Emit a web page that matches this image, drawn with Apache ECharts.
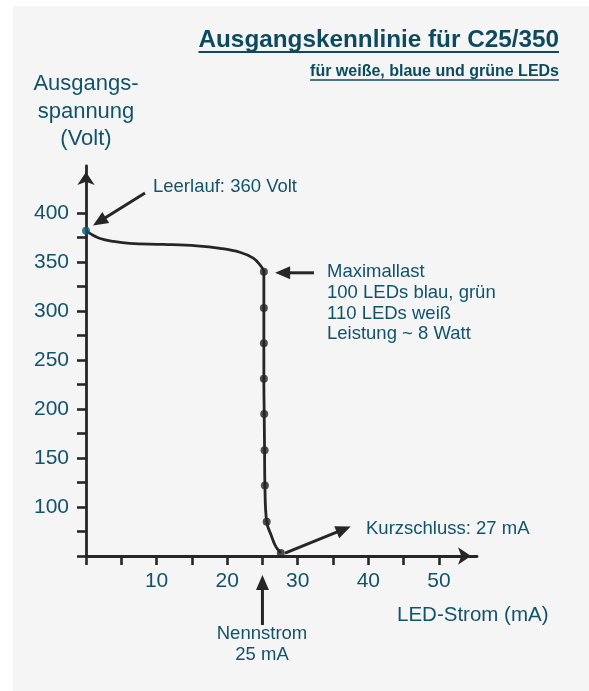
<!DOCTYPE html>
<html>
<head>
<meta charset="utf-8">
<script src="https://cdn.jsdelivr.net/npm/echarts@6/dist/echarts.min.js"></script>
<style>
  html, body { margin: 0; padding: 0; background: #fff; }
  #wrap { position: relative; width: 589px; height: 691px; }
  #bg { position: absolute; left: 13px; top: 6px; right: 0; bottom: 0; background: #f5f5f5; }
  #chart { position: absolute; left: 0; top: 0; width: 589px; height: 691px; }
</style>
</head>
<body>
<div id="wrap"><div id="bg"></div><div id="chart"></div></div>
<script>
// Kennlinie: LED-Strom (mA) -> Ausgangsspannung (V)
const curveCurrent = [0, 0.6, 2, 3.9, 6.2, 11, 15.7, 19, 21.8, 23.7, 24.65, 25.2, 25.2, 25.2, 25.2, 25.25, 25.3, 25.35, 25.6, 26.3, 26.9, 27.6]
const curveVoltage = [382, 379, 374, 371, 369, 368, 366.5, 364, 360, 354, 347, 340, 303, 267, 231, 195, 158, 122, 85, 70, 59.5, 53]

// measured points on the curve
const dotCurrent = [25.2, 25.2, 25.2, 25.2, 25.25, 25.3, 25.35, 25.6, 27.6]
const dotVoltage = [340, 303, 267, 231, 195, 158, 122, 85, 53]
const idlePoint = [0, 382]

const xTicks = [0, 5, 10, 15, 20, 25, 30, 35, 40, 45, 50]
const xLabels = [10, 20, 30, 40, 50]
const yTicks = [50, 75, 100, 125, 150, 175, 200, 225, 250, 275, 300, 325, 350, 375, 400]
const yLabels = [100, 150, 200, 250, 300, 350, 400]

const title = 'Ausgangskennlinie für C25/350'
const subtitle = 'für weiße, blaue und grüne LEDs'

const teal = '#12536c'
const titleColor = '#0c4b5f'
const ink = '#262626'
const font = '"Liberation Sans", Arial, sans-serif'

const chart = echarts.init(document.getElementById('chart'), null, { renderer: 'canvas' })

chart.setOption({
  animation: false,
  backgroundColor: 'transparent',
  grid: {
    left: 86,
    right: 112,
    top: 166,
    bottom: 135
  },
  xAxis: {
    type: 'value',
    min: 0,
    max: 55.4,
    axisLine: {
      show: true,
      onZero: false,
      symbol: ['none', 'arrow'],
      symbolSize: [13, 13],
      symbolOffset: [0, -6],
      lineStyle: { color: ink, width: 2.8 }
    },
    axisTick: {
      show: true,
      length: 9,
      customValues: xTicks,
      lineStyle: { color: ink, width: 2.6 }
    },
    axisLabel: {
      customValues: xLabels,
      margin: 15,
      color: teal,
      fontSize: 21,
      fontFamily: font
    },
    splitLine: { show: false }
  },
  yAxis: {
    type: 'value',
    min: 50,
    max: 448,
    name: 'Ausgangs-\nspannung\n(Volt)',
    nameLocation: 'end',
    nameGap: 13,
    nameTextStyle: {
      color: teal,
      fontSize: 22,
      lineHeight: 27.5,
      fontFamily: font,
      align: 'center',
      verticalAlign: 'bottom'
    },
    axisLine: {
      show: true,
      onZero: false,
      symbol: ['none', 'arrow'],
      symbolSize: [13, 13],
      symbolOffset: [0, -6],
      lineStyle: { color: ink, width: 2.8 }
    },
    axisTick: {
      show: true,
      length: 9,
      customValues: yTicks,
      lineStyle: { color: ink, width: 2.6 }
    },
    axisLabel: {
      customValues: yLabels,
      margin: 17,
      color: teal,
      fontSize: 21,
      fontFamily: font
    },
    splitLine: { show: false }
  },
  series: [
    {
      type: 'line',
      data: curveCurrent.map((x, i) => [x, curveVoltage[i]]),
      smooth: 0.4,
      symbol: 'none',
      lineStyle: { color: ink, width: 2.8 },
      z: 3
    },
    {
      type: 'scatter',
      data: dotCurrent.map((x, i) => [x, dotVoltage[i]]),
      symbolSize: 8,
      itemStyle: { color: ink },
      z: 4
    },
    {
      type: 'scatter',
      data: [idlePoint],
      symbolSize: 8,
      itemStyle: { color: '#0e5a78' },
      z: 4
    }
  ]
})

const px = p => chart.convertToPixel({ gridIndex: 0 }, p)

function arrow(from, to) {
  const a = px(from)
  const b = px(to)
  const ang = Math.atan2(b[1] - a[1], b[0] - a[0])
  const len = 15
  const half = 6.5
  const bx = b[0] - len * Math.cos(ang)
  const by = b[1] - len * Math.sin(ang)
  const nx = -Math.sin(ang)
  const ny = Math.cos(ang)
  return [
    {
      type: 'line',
      shape: { x1: a[0], y1: a[1], x2: bx + 2 * Math.cos(ang), y2: by + 2 * Math.sin(ang) },
      style: { stroke: ink, lineWidth: 3 },
      z: 10
    },
    {
      type: 'polygon',
      shape: { points: [b, [bx + nx * half, by + ny * half], [bx - nx * half, by - ny * half]] },
      style: { fill: ink },
      z: 10
    }
  ]
}

function label(text, x, y, opts) {
  return {
    type: 'text',
    x: x,
    y: y,
    z: 10,
    style: Object.assign({
      text: text,
      fill: teal,
      fontSize: 18.5,
      fontFamily: font,
      align: 'left',
      verticalAlign: 'middle'
    }, opts || {})
  }
}

// text widths for underlines
const ctx = document.createElement('canvas').getContext('2d')
ctx.font = 'bold 24.3px "Liberation Sans"'
const titleW = ctx.measureText(title).width
ctx.font = 'bold 16px "Liberation Sans"'
const subW = ctx.measureText(subtitle).width

const graphics = [].concat(
  arrow([8.36, 420.4], [1.0, 387.3]),
  arrow([32.3, 339], [26.8, 339]),
  arrow([28.2, 53], [37.5, 80]),
  arrow([25.0, -20.4], [25.0, 30.6]),
  [
    label(title, 559, 40, { fill: titleColor, fontSize: 24.3, fontWeight: 'bold', align: 'right' }),
    { type: 'line', z: 10, shape: { x1: 559 - titleW, y1: 52, x2: 559, y2: 52 }, style: { stroke: titleColor, lineWidth: 2 } },
    label(subtitle, 559, 71.6, { fill: titleColor, fontSize: 16, fontWeight: 'bold', align: 'right' }),
    { type: 'line', z: 10, shape: { x1: 559 - subW, y1: 80, x2: 559, y2: 80 }, style: { stroke: titleColor, lineWidth: 1.5 } },
    label('Leerlauf: 360 Volt', 153, 187),
    label('Maximallast\n100 LEDs blau, grün\n110 LEDs weiß\nLeistung ~ 8 Watt', 327, 261.6, { verticalAlign: 'top', lineHeight: 20.8 }),
    label('Kurzschluss: 27 mA', 366, 529),
    label('Nennstrom\n25 mA', 262, 623.5, { align: 'center', verticalAlign: 'top', lineHeight: 21 }),
    label('LED-Strom (mA)', 397, 615, { fontSize: 20.5 })
  ]
)

chart.setOption({ graphic: graphics })
</script>
</body>
</html>
